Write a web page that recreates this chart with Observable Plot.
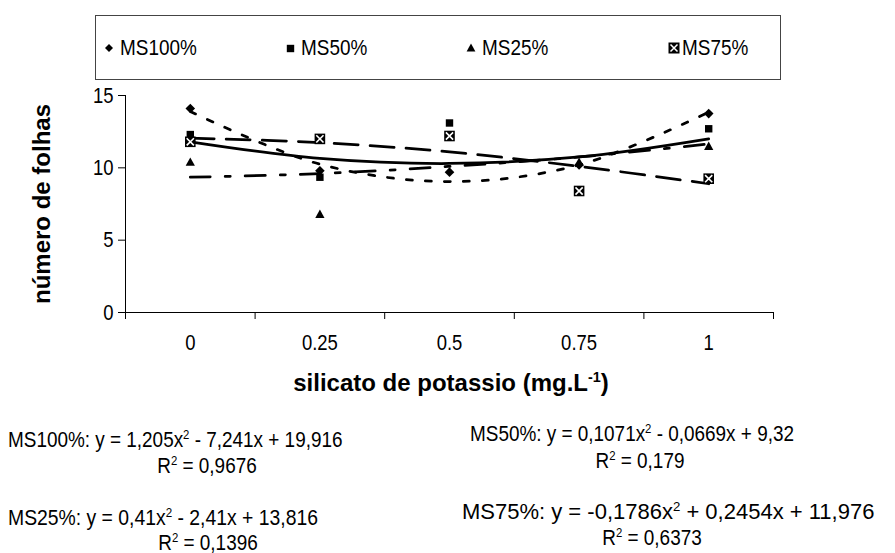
<!DOCTYPE html>
<html><head><meta charset="utf-8">
<script src="https://cdn.jsdelivr.net/npm/d3@7"></script>
<script src="https://cdn.jsdelivr.net/npm/@observablehq/plot@0.6"></script>
<style>
body{margin:0;background:#fff;}
#wrap{position:relative;width:895px;height:553px;overflow:hidden;font-family:"Liberation Sans",Arial,sans-serif;color:#000;}
#chart{position:absolute;left:0;top:0;}
.abs{position:absolute;white-space:nowrap;line-height:18px;}
.c{transform:translateX(-50%);}
.sq{display:inline-block;transform-origin:left center;}
.c .sq{transform-origin:center center;}
sup{font-size:0.6em;vertical-align:baseline;position:relative;top:-0.6em;line-height:0;}
#legend{position:absolute;left:95px;top:15px;width:686px;height:65px;border:1px solid #444;box-sizing:border-box;background:#fff;}
.li{position:absolute;top:20px;font-size:22px;line-height:24px;white-space:nowrap;display:flex;align-items:center;}
.li span{display:inline-block;transform:scaleX(0.86);transform-origin:left center;}
.li svg{margin-right:6px;}
.eq{font-size:22px;}
</style></head>
<body>
<div id="wrap">
  <div id="chart"></div>
  <div id="legend"></div>
  <div class="abs c" id="xtitle" style="left:451px;top:371px;font-size:24px;line-height:24px;font-weight:bold;"></div>
  <div id="eqs"></div>
</div>
<script>
// ---- data ----
const categories = ["0", "0.25", "0.5", "0.75", "1"];
const seriesNames = ["MS100%", "MS50%", "MS25%", "MS75%"];
// observed points (null = hidden / not visible)
const ms100 = [14.1, 9.8, 9.7, 10.2, 13.75];
const ms50  = [12.3, 9.35, 13.1, null, 12.7];
const ms25  = [10.4, 6.8, null, 10.4, 11.5];
const ms75  = [11.8, 12.0, 12.2, 8.4, 9.25];
// trend line values read at each category
const trend100 = [13.9, 10.25, 9.05, 10.2, 13.85];
const trend50  = [9.35, 9.6, 10.1, 10.75, 11.65];
const trend25  = [11.8, 10.65, 10.3, 10.75, 12.0];
const trend75  = [12.05, 11.75, 11.1, 10.1, 8.9];
const yTicks = [0, 5, 10, 15];
const yTitle = "número de folhas";
const xTitle = "silicato de potassio (mg.L<sup>-1</sup>)";
const equations = [
  "MS100%: y = 1,205x<sup>2</sup> - 7,241x + 19,916",
  "R<sup>2</sup> = 0,9676",
  "MS50%: y = 0,1071x<sup>2</sup> - 0,0669x + 9,32",
  "R<sup>2</sup> = 0,179",
  "MS25%: y = 0,41x<sup>2</sup> - 2,41x + 13,816",
  "R<sup>2</sup> = 0,1396",
  "MS75%: y = -0,1786x<sup>2</sup> + 0,2454x + 11,976",
  "R<sup>2</sup> = 0,6373"
];

// ---- helpers ----
const rows = arr => arr.map((v, k) => ({i: k + 1, v})).filter(d => d.v != null);
const diamond = {draw(ctx, size){ const h = Math.sqrt(size / Math.PI); ctx.moveTo(0,-h); ctx.lineTo(h,0); ctx.lineTo(0,h); ctx.lineTo(-h,0); ctx.closePath(); }};
const square = {draw(ctx, size){ const h = Math.sqrt(size / Math.PI); ctx.rect(-h,-h,2*h,2*h); }};
const triangle = {draw(ctx, size){ const h = Math.sqrt(size / Math.PI); ctx.moveTo(0,-h*1.1); ctx.lineTo(h*1.1,h*0.9); ctx.lineTo(-h*1.1,h*0.9); ctx.closePath(); }};
const cross = {draw(ctx, size){ const h = Math.sqrt(size / Math.PI); ctx.moveTo(-h,-h); ctx.lineTo(h,h); ctx.moveTo(h,-h); ctx.lineTo(-h,h); }};

const font = '"Liberation Sans",Arial,sans-serif';
const lw = 2.75;

const chart = Plot.plot({
  width: 895, height: 553,
  marginLeft: 125, marginRight: 122, marginTop: 95, marginBottom: 241,
  style: {fontFamily: font, background: "white", color: "black", overflow: "visible"},
  x: {type: "linear", domain: [0.5, 5.5], axis: null},
  y: {domain: [0, 15], axis: null},
  marks: [
    Plot.ruleX([0.5], {y1: 0, y2: 15, stroke: "black"}),
    Plot.ruleY([0], {stroke: "black"}),
    Plot.axisY(yTicks, {anchor: "left", tickSize: 7, tickPadding: 5, fontSize: 22, label: null, stroke: "black"}),
    Plot.axisX([0.5, 1.5, 2.5, 3.5, 4.5, 5.5], {tickSize: 7, tickFormat: () => "", label: null, stroke: "black"}),
    Plot.axisX([1, 2, 3, 4, 5], {tickSize: 0, tickPadding: 22, tickFormat: i => categories[i - 1], fontSize: 22, label: null}),
    Plot.text([yTitle], {text: d => d, frameAnchor: "left", textAnchor: "middle", dx: -83, dy: 0, rotate: -90, fontSize: 24, fontWeight: "bold"}),
    // trend lines
    Plot.line(rows(trend75), {x: "i", y: "v", curve: "catmull-rom", stroke: "black", strokeWidth: lw, strokeDasharray: "24,12"}),
    Plot.line(rows(trend50), {x: "i", y: "v", curve: "catmull-rom", stroke: "black", strokeWidth: lw, strokeDasharray: "20,15,5,15"}),
    Plot.line(rows(trend25), {x: "i", y: "v", curve: "catmull-rom", stroke: "black", strokeWidth: lw}),
    Plot.line(rows(trend100), {x: "i", y: "v", curve: "catmull-rom", stroke: "black", strokeWidth: lw, strokeDasharray: "6,13"}),
    // markers
    Plot.dot(rows(ms50), {x: "i", y: "v", symbol: square, r: 3.7, fill: "black", stroke: "none"}),
    Plot.dot(rows(ms75), {x: "i", y: "v", symbol: square, r: 5.3, fill: "black", stroke: "none"}),
    Plot.dot(rows(ms75), {x: "i", y: "v", symbol: cross, r: 3.6, fill: "none", stroke: "white", strokeWidth: 1.6}),
    Plot.dot(rows(ms100), {x: "i", y: "v", symbol: diamond, r: 4.8, fill: "black", stroke: "none"}),
    Plot.dot(rows(ms25), {x: "i", y: "v", symbol: triangle, r: 4.2, fill: "black", stroke: "none"})
  ]
});
document.getElementById("chart").appendChild(chart);

// condense the regular-weight tick labels, as in the reference
d3.select(chart).selectAll("text").each(function() {
  if (this.textContent === yTitle) return;
  const len = this.getComputedTextLength();
  if (len > 0) {
    this.setAttribute("textLength", (len * 0.84).toFixed(2));
    this.setAttribute("lengthAdjust", "spacingAndGlyphs");
  }
});

// ---- legend ----
const icons = [
  '<svg width="10" height="10" viewBox="-5 -5 10 10"><path d="M0,-4L4,0L0,4L-4,0Z" fill="black"/></svg>',
  '<svg width="9" height="9" viewBox="-4.5 -4.5 9 9"><rect x="-3.7" y="-3.7" width="7.4" height="7.4" fill="black"/></svg>',
  '<svg width="10" height="10" viewBox="-5 -5 10 10"><path d="M0,-4.4L4.4,3.6L-4.4,3.6Z" fill="black"/></svg>',
  '<svg width="12" height="12" viewBox="-6 -6 12 12"><rect x="-5.5" y="-5.5" width="11" height="11" fill="black"/><path d="M-3.5,-3.5L3.5,3.5M3.5,-3.5L-3.5,3.5" stroke="white" stroke-width="1.5"/></svg>'
];
const legendX = [8, 190, 370, 572];
const lg = document.getElementById("legend");
seriesNames.forEach((s, k) => {
  const d = document.createElement("div");
  d.className = "li";
  d.style.left = legendX[k] + "px";
  d.innerHTML = icons[k] + "<span>" + s + "</span>";
  if (k === 3) d.querySelector("svg").style.marginRight = "2px";
  lg.appendChild(d);
});

document.getElementById("xtitle").innerHTML = xTitle;

// ---- equations ----
const eqPos = [
  {left: 8, top: 431, c: false, s: 0.86}, {left: 207, top: 457, c: true, s: 0.86},
  {left: 470, top: 425, c: false, s: 0.86}, {left: 640, top: 452, c: true, s: 0.86},
  {left: 8, top: 509, c: false, s: 0.88}, {left: 208, top: 534, c: true, s: 0.86},
  {left: 462, top: 503, c: false, s: 1.0}, {left: 652, top: 529, c: true, s: 0.86}
];
const eqs = document.getElementById("eqs");
equations.forEach((e, k) => {
  const d = document.createElement("div");
  d.className = "abs eq" + (eqPos[k].c ? " c" : "");
  d.style.left = eqPos[k].left + "px";
  d.style.top = eqPos[k].top + "px";
  d.innerHTML = '<span class="sq" style="transform:scaleX(' + eqPos[k].s + ')">' + e + '</span>';
  eqs.appendChild(d);
});
</script>
</body></html>
